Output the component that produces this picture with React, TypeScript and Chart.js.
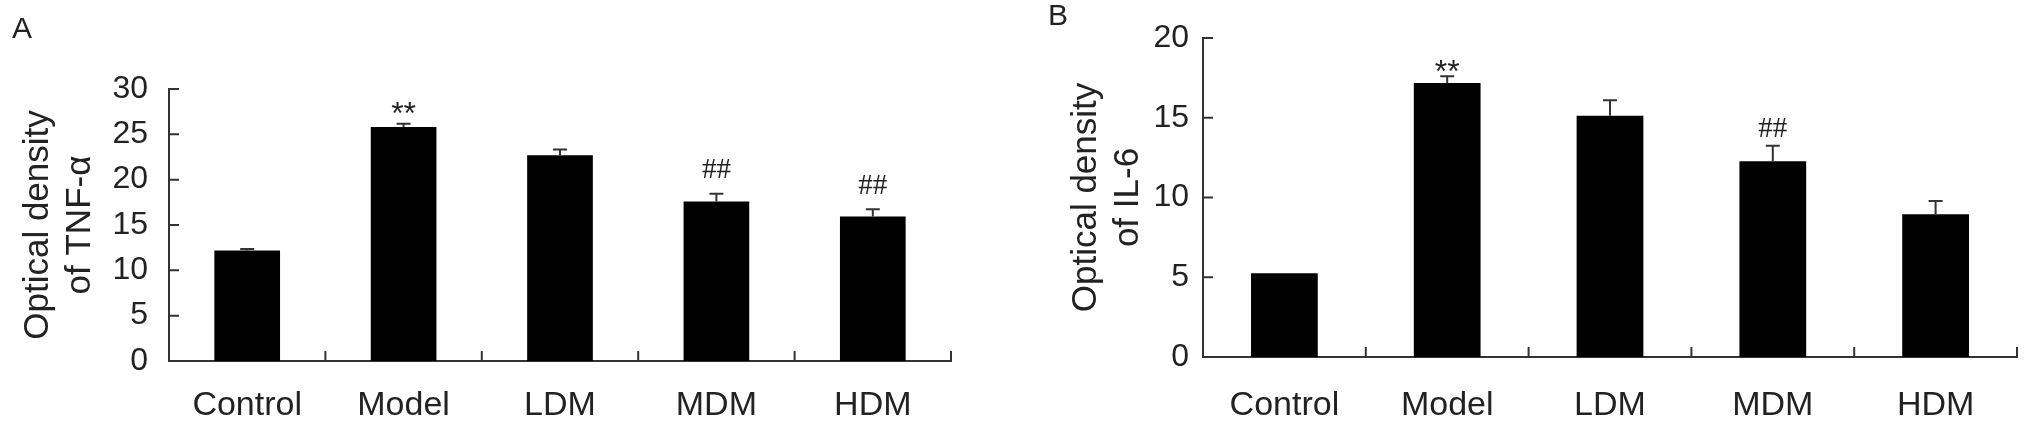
import React, { useEffect, useRef } from "react";
import { Chart, registerables } from "chart.js";

Chart.register(...registerables);

const categories = ["Control", "Model", "LDM", "MDM", "HDM"];

const tnfValues = [12.2, 25.8, 22.7, 17.6, 15.95];
const tnfErrors = [0.15, 0.37, 0.63, 0.85, 0.8];
const tnfMarks = ["", "**", "", "##", "##"];
const tnfTitle = ["Optical density", "of TNF-\u03b1"];
const tnfTicks = { min: 0, max: 30, step: 5 };

const il6Values = [5.25, 17.18, 15.12, 12.28, 8.95];
const il6Errors = [0, 0.42, 0.98, 0.96, 0.83];
const il6Marks = ["", "**", "", "##", ""];
const il6Title = ["Optical density", "of IL-6"];
const il6Ticks = { min: 0, max: 20, step: 5 };

const SANS = "'Liberation Sans', Arial, sans-serif";
const SERIF = "'Liberation Serif', 'Times New Roman', serif";
const TEXT = "#222";
const LINE = "#333";

const decorPlugin = {
  id: "decor",
  afterDatasetsDraw(chart: any, _args: any, opts: any) {
    const ctx = chart.ctx as CanvasRenderingContext2D;
    const xs = chart.scales.x;
    const ys = chart.scales.y;
    const meta = chart.getDatasetMeta(0);
    const data = chart.data.datasets[0].data as number[];
    ctx.save();
    ctx.strokeStyle = LINE;
    ctx.lineWidth = 2;
    // error bars + marks
    meta.data.forEach((bar: any, i: number) => {
      const v = data[i];
      const err = opts.errors[i] || 0;
      const base = ys.getPixelForValue(v);
      const top = ys.getPixelForValue(v + err);
      if (err > 0) {
        ctx.beginPath();
        ctx.moveTo(bar.x, base);
        ctx.lineTo(bar.x, top);
        ctx.moveTo(bar.x - opts.cap / 2, top);
        ctx.lineTo(bar.x + opts.cap / 2, top);
        ctx.stroke();
      }
      const m = opts.marks[i];
      if (m) {
        ctx.fillStyle = TEXT;
        ctx.textAlign = "center";
        ctx.textBaseline = "middle";
        if (m.indexOf("*") >= 0) {
          ctx.font = `${opts.starSize}px ${SANS}`;
          ctx.fillText(m, bar.x, top - opts.starGap + 7);
        } else {
          ctx.font = `${opts.hashSize}px ${SERIF}`;
          ctx.fillText(m, bar.x, top - opts.hashGap);
        }
      }
    });
    // inward y ticks
    ctx.beginPath();
    ys.ticks.forEach((_t: any, i: number) => {
      const py = ys.getPixelForTick(i);
      ctx.moveTo(ys.right, py);
      ctx.lineTo(ys.right + opts.tickLen, py);
    });
    // inward x ticks at category boundaries
    const half = (xs.getPixelForValue(1) - xs.getPixelForValue(0)) / 2;
    for (let i = 0; i < categories.length; i++) {
      const px = xs.getPixelForValue(i) + half;
      ctx.moveTo(px, xs.top);
      ctx.lineTo(px, xs.top - opts.tickLen);
    }
    ctx.stroke();
    // panel letter
    ctx.fillStyle = TEXT;
    ctx.font = `30px ${SANS}`;
    ctx.textAlign = "left";
    ctx.textBaseline = "alphabetic";
    ctx.fillText(opts.letter, opts.letterX, opts.letterY);
    ctx.restore();
  },
};

type PanelProps = {
  values: number[];
  errors: number[];
  marks: string[];
  title: string[];
  ticks: { min: number; max: number; step: number };
  width: number;
  left: number;
  yWidth: number;
  xHeight: number;
  padTop: number;
  padRight: number;
  titlePad: number;
  yTickPad: number;
  xTickPad: number;
  barPct: number;
  letter: string;
  letterX: number;
  letterY: number;
  starGap: number;
  hashGap: number;
};

function Panel(p: PanelProps) {
  const ref = useRef<HTMLCanvasElement | null>(null);
  useEffect(() => {
    if (!ref.current) return;
    const chart = new Chart(ref.current, {
      type: "bar",
      data: {
        labels: categories,
        datasets: [
          {
            data: p.values,
            backgroundColor: "#000",
            borderWidth: 0,
            barPercentage: p.barPct,
            categoryPercentage: 1,
          },
        ],
      },
      options: {
        responsive: false,
        animation: false,
        devicePixelRatio: 1,
        layout: { padding: { left: 0, top: p.padTop, right: p.padRight, bottom: 0 } },
        plugins: {
          legend: { display: false },
          tooltip: { enabled: false },
          decor: {
            errors: p.errors,
            marks: p.marks,
            cap: 14,
            tickLen: 10,
            letter: p.letter,
            letterX: p.letterX,
            letterY: p.letterY,
            starSize: 32,
            hashSize: 29,
            starGap: p.starGap,
            hashGap: p.hashGap,
          },
        } as any,
        scales: {
          x: {
            grid: { display: false, drawTicks: false, tickLength: 0 },
            border: { display: true, color: LINE, width: 2 },
            ticks: {
              color: TEXT,
              font: { family: SANS, size: 34 },
              padding: p.xTickPad,
              maxRotation: 0,
              autoSkip: false,
            },
            afterFit: (s: any) => {
              s.height = p.xHeight;
            },
          },
          y: {
            min: p.ticks.min,
            max: p.ticks.max,
            grid: { display: false, drawTicks: false, tickLength: 0 },
            border: { display: true, color: LINE, width: 2 },
            ticks: {
              stepSize: p.ticks.step,
              color: TEXT,
              font: { family: SANS, size: 32 },
              padding: p.yTickPad,
            },
            title: {
              display: true,
              text: p.title,
              color: TEXT,
              font: { family: SANS, size: 35, lineHeight: 1.2 },
              padding: { top: p.titlePad, bottom: 0 },
            },
            afterFit: (s: any) => {
              s.width = p.yWidth;
            },
          },
        },
      },
      plugins: [decorPlugin],
    } as any);
    return () => chart.destroy();
  }, []);
  return (
    <canvas
      ref={ref}
      width={p.width}
      height={430}
      style={{ position: "absolute", left: p.left, top: 0, width: p.width, height: 430 }}
    />
  );
}

export default function App() {
  return (
    <div style={{ position: "absolute", left: 0, top: 0, width: 2031, height: 430, background: "#fff" }}>
      <Panel
        values={tnfValues}
        errors={tnfErrors}
        marks={tnfMarks}
        title={tnfTitle}
        ticks={tnfTicks}
        width={1000}
        left={0}
        yWidth={169}
        xHeight={69}
        padTop={89}
        padRight={49}
        titlePad={17}
        yTickPad={21}
        xTickPad={24}
        barPct={0.42}
        letter="A"
        letterX={12}
        letterY={38}
        starGap={16}
        hashGap={23}
      />
      <Panel
        values={il6Values}
        errors={il6Errors}
        marks={il6Marks}
        title={il6Title}
        ticks={il6Ticks}
        width={1031}
        left={1000}
        yWidth={203}
        xHeight={73}
        padTop={38}
        padRight={14}
        titlePad={65}
        yTickPad={14}
        xTickPad={28}
        barPct={0.41}
        letter="B"
        letterX={48}
        letterY={25}
        starGap={10}
        hashGap={16}
      />
    </div>
  );
}
